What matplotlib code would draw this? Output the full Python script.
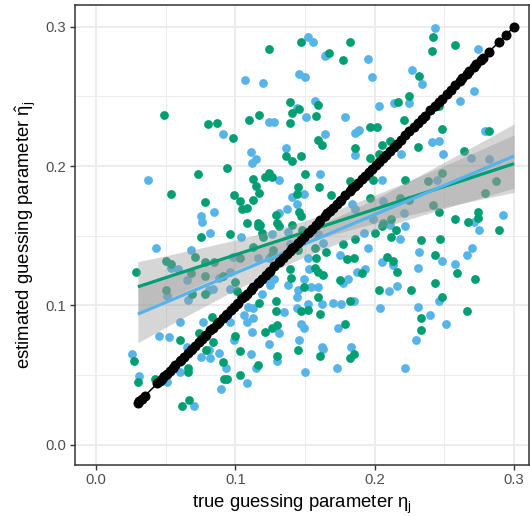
import numpy as np
import matplotlib
matplotlib.use("Agg")
import matplotlib.pyplot as plt
from matplotlib.ticker import MultipleLocator

# ---------------- data ----------------
green_x = [0.124, 0.147, 0.049, 0.080, 0.087, 0.110, 0.117, 0.139, 0.141, 0.146,
           0.159, 0.158, 0.139, 0.242, 0.182, 0.258, 0.241, 0.167, 0.177, 0.232,
           0.225, 0.217, 0.246, 0.221, 0.197, 0.202, 0.248, 0.282, 0.098, 0.136,
           0.141, 0.147, 0.159, 0.162, 0.094, 0.073, 0.054, 0.078, 0.099, 0.103,
           0.105, 0.108, 0.113, 0.115, 0.117, 0.113, 0.121, 0.124, 0.126, 0.150,
           0.145, 0.144, 0.160, 0.129, 0.146, 0.147, 0.108, 0.116, 0.118, 0.130,
           0.141, 0.211, 0.205, 0.231, 0.186, 0.197, 0.203, 0.264, 0.182, 0.199,
           0.222, 0.169, 0.197, 0.218, 0.225, 0.238, 0.248, 0.242, 0.246, 0.279,
           0.287, 0.258, 0.267, 0.274, 0.274, 0.206, 0.212, 0.075, 0.096, 0.116,
           0.120, 0.119, 0.131, 0.148, 0.157, 0.071, 0.050, 0.054, 0.078, 0.029,
           0.085, 0.103, 0.113, 0.126, 0.127, 0.145, 0.157, 0.158, 0.068, 0.078,
           0.091, 0.100, 0.101, 0.050, 0.069, 0.078, 0.104, 0.129, 0.139, 0.140,
           0.149, 0.157, 0.159, 0.152, 0.147, 0.129, 0.159, 0.083, 0.117, 0.289,
           0.205, 0.215, 0.212, 0.200, 0.186, 0.177, 0.233, 0.247, 0.243, 0.259,
           0.272, 0.209, 0.213, 0.216, 0.243, 0.203, 0.226, 0.248, 0.180, 0.185,
           0.191, 0.175, 0.163, 0.182, 0.233, 0.266, 0.165, 0.027, 0.030, 0.060,
           0.042, 0.066, 0.066, 0.062, 0.067, 0.079, 0.084, 0.074, 0.075, 0.091,
           0.092, 0.094, 0.100, 0.103, 0.103, 0.116, 0.121, 0.126, 0.130, 0.130,
           0.145, 0.161, 0.179, 0.185, 0.182, 0.233, 0.161]
green_y = [0.284, 0.289, 0.237, 0.230, 0.231, 0.233, 0.237, 0.246, 0.238, 0.241,
           0.244, 0.236, 0.231, 0.293, 0.289, 0.287, 0.283, 0.281, 0.276, 0.265,
           0.250, 0.246, 0.243, 0.233, 0.228, 0.228, 0.227, 0.225, 0.220, 0.207,
           0.204, 0.207, 0.219, 0.215, 0.199, 0.194, 0.180, 0.174, 0.179, 0.175,
           0.169, 0.170, 0.191, 0.186, 0.181, 0.176, 0.192, 0.195, 0.192, 0.194,
           0.185, 0.180, 0.185, 0.165, 0.167, 0.164, 0.159, 0.159, 0.158, 0.159,
           0.158, 0.218, 0.215, 0.214, 0.213, 0.206, 0.209, 0.211, 0.189, 0.190,
           0.190, 0.179, 0.177, 0.177, 0.176, 0.189, 0.195, 0.172, 0.167, 0.181,
           0.189, 0.162, 0.160, 0.167, 0.163, 0.159, 0.162, 0.149, 0.151, 0.157,
           0.149, 0.152, 0.157, 0.154, 0.157, 0.135, 0.132, 0.130, 0.131, 0.124,
           0.131, 0.134, 0.142, 0.136, 0.140, 0.140, 0.141, 0.134, 0.123, 0.121,
           0.121, 0.117, 0.110, 0.111, 0.108, 0.108, 0.107, 0.103, 0.126, 0.120,
           0.113, 0.127, 0.124, 0.097, 0.096, 0.096, 0.106, 0.092, 0.102, 0.154,
           0.157, 0.154, 0.149, 0.152, 0.148, 0.144, 0.147, 0.148, 0.136, 0.123,
           0.119, 0.135, 0.132, 0.124, 0.116, 0.111, 0.111, 0.106, 0.133, 0.134,
           0.123, 0.118, 0.122, 0.103, 0.091, 0.096, 0.138, 0.060, 0.045, 0.075,
           0.047, 0.055, 0.052, 0.028, 0.032, 0.068, 0.074, 0.080, 0.078, 0.059,
           0.047, 0.047, 0.078, 0.067, 0.050, 0.057, 0.081, 0.084, 0.086, 0.064,
           0.068, 0.064, 0.087, 0.065, 0.062, 0.082, 0.094]

blue_x = [0.152, 0.156, 0.164, 0.107, 0.120, 0.146, 0.150, 0.124, 0.128, 0.144,
          0.157, 0.151, 0.243, 0.274, 0.165, 0.195, 0.227, 0.198, 0.234, 0.266,
          0.271, 0.261, 0.214, 0.225, 0.203, 0.179, 0.189, 0.279, 0.091, 0.111,
          0.115, 0.112, 0.136, 0.037, 0.075, 0.076, 0.085, 0.131, 0.161, 0.141,
          0.149, 0.144, 0.137, 0.131, 0.186, 0.188, 0.241, 0.246, 0.164, 0.186,
          0.219, 0.249, 0.269, 0.282, 0.205, 0.245, 0.184, 0.206, 0.221, 0.292,
          0.199, 0.186, 0.082, 0.104, 0.126, 0.138, 0.159, 0.043, 0.068, 0.054,
          0.059, 0.098, 0.116, 0.124, 0.139, 0.152, 0.065, 0.088, 0.096, 0.096,
          0.051, 0.081, 0.084, 0.066, 0.109, 0.113, 0.125, 0.128, 0.123, 0.138,
          0.145, 0.144, 0.149, 0.153, 0.154, 0.159, 0.152, 0.144, 0.135, 0.106,
          0.113, 0.119, 0.271, 0.275, 0.211, 0.222, 0.218, 0.192, 0.195, 0.232,
          0.270, 0.266, 0.248, 0.258, 0.213, 0.205, 0.231, 0.216, 0.210, 0.246,
          0.175, 0.187, 0.193, 0.181, 0.177, 0.170, 0.176, 0.185, 0.162, 0.204,
          0.231, 0.240, 0.163, 0.026, 0.031, 0.045, 0.052, 0.060, 0.051, 0.060,
          0.065, 0.070, 0.075, 0.081, 0.082, 0.088, 0.093, 0.090, 0.077, 0.096,
          0.099, 0.111, 0.108, 0.115, 0.108, 0.112, 0.131, 0.124, 0.130, 0.146,
          0.147, 0.149, 0.162, 0.150, 0.174, 0.163, 0.183, 0.173, 0.230, 0.251,
          0.222]
blue_y = [0.293, 0.289, 0.279, 0.262, 0.260, 0.266, 0.264, 0.232, 0.232, 0.242,
          0.247, 0.235, 0.299, 0.284, 0.280, 0.277, 0.269, 0.264, 0.259, 0.266,
          0.254, 0.247, 0.245, 0.245, 0.243, 0.235, 0.226, 0.225, 0.223, 0.210,
          0.205, 0.202, 0.213, 0.190, 0.164, 0.160, 0.167, 0.190, 0.194, 0.178,
          0.180, 0.173, 0.169, 0.166, 0.224, 0.225, 0.217, 0.218, 0.223, 0.208,
          0.209, 0.209, 0.206, 0.205, 0.190, 0.190, 0.173, 0.175, 0.166, 0.165,
          0.162, 0.169, 0.152, 0.149, 0.151, 0.153, 0.151, 0.141, 0.140, 0.127,
          0.126, 0.135, 0.134, 0.134, 0.144, 0.134, 0.118, 0.120, 0.124, 0.112,
          0.107, 0.111, 0.112, 0.104, 0.099, 0.098, 0.115, 0.119, 0.119, 0.115,
          0.111, 0.106, 0.119, 0.126, 0.113, 0.113, 0.101, 0.098, 0.095, 0.093,
          0.091, 0.108, 0.160, 0.154, 0.158, 0.157, 0.148, 0.152, 0.141, 0.138,
          0.141, 0.136, 0.132, 0.130, 0.129, 0.131, 0.127, 0.114, 0.110, 0.103,
          0.136, 0.124, 0.126, 0.119, 0.116, 0.102, 0.101, 0.103, 0.101, 0.098,
          0.099, 0.093, 0.145, 0.065, 0.049, 0.078, 0.077, 0.088, 0.045, 0.052,
          0.070, 0.028, 0.063, 0.068, 0.062, 0.066, 0.055, 0.040, 0.088, 0.088,
          0.075, 0.065, 0.044, 0.055, 0.088, 0.081, 0.080, 0.072, 0.060, 0.075,
          0.087, 0.084, 0.070, 0.052, 0.084, 0.069, 0.070, 0.055, 0.075, 0.087,
          0.055]

# true guessing parameters (black points on the identity line)
eta_true = [0.030, 0.031, 0.033, 0.035, 0.044, 0.046, 0.047, 0.049, 0.051, 0.053,
            0.055, 0.057, 0.060, 0.061, 0.063, 0.066, 0.068, 0.069, 0.071, 0.074,
            0.076, 0.078, 0.079, 0.082, 0.084, 0.087, 0.088, 0.091, 0.093, 0.094,
            0.097, 0.099, 0.101, 0.102, 0.105, 0.107, 0.108, 0.111, 0.113, 0.116,
            0.117, 0.119, 0.122, 0.124, 0.125, 0.128, 0.131, 0.132, 0.134, 0.137,
            0.139, 0.141, 0.142, 0.145, 0.147, 0.149, 0.152, 0.153, 0.155, 0.158,
            0.160, 0.161, 0.164, 0.166, 0.168, 0.170, 0.173, 0.175, 0.176, 0.179,
            0.182, 0.184, 0.186, 0.188, 0.191, 0.193, 0.196, 0.198, 0.201, 0.203,
            0.206, 0.208, 0.211, 0.214, 0.216, 0.219, 0.222, 0.225, 0.228, 0.231,
            0.234, 0.236, 0.240, 0.243, 0.246, 0.248, 0.252, 0.255, 0.258, 0.261,
            0.263, 0.266, 0.268, 0.271, 0.273, 0.276, 0.278, 0.282, 0.289, 0.294,
            0.300]

tick_values = [0.0, 0.1, 0.2, 0.3]
tick_labels = ["0.0", "0.1", "0.2", "0.3"]
x_label = r"true guessing parameter $\eta_j$"
y_label = r"estimated guessing parameter $\hat{\eta}_j$"

GREEN = "#009E73"
BLUE = "#56B4E9"

# ---------------- style ----------------
plt.rcParams["font.family"] = ["Liberation Sans", "DejaVu Sans"]
plt.rcParams["mathtext.fontset"] = "custom"
plt.rcParams["mathtext.rm"] = "Liberation Sans"
plt.rcParams["mathtext.it"] = "Liberation Sans"
plt.rcParams["mathtext.bf"] = "Liberation Sans:bold"

fig = plt.figure(figsize=(5.30, 5.16), dpi=100)
ax = fig.add_axes([74.5 / 530, 1 - 465 / 516, (529 - 74.5) / 530, (465 - 5) / 516])
ax.set_xlim(-0.0155, 0.3108)
ax.set_ylim(-0.0146, 0.3157)

ax.set_facecolor("white")
ax.xaxis.set_major_locator(MultipleLocator(0.1))
ax.yaxis.set_major_locator(MultipleLocator(0.1))
ax.xaxis.set_minor_locator(MultipleLocator(0.05))
ax.yaxis.set_minor_locator(MultipleLocator(0.05))
ax.grid(which="major", color="#EBEBEB", linewidth=1.3, zorder=0)
ax.grid(which="minor", color="#EBEBEB", linewidth=0.65, zorder=0)
ax.set_axisbelow(True)
ax.tick_params(which="minor", length=0)
ax.tick_params(which="major", length=3.3, width=1.0, color="#333333",
               labelsize=10.6, labelcolor="#4D4D4D", pad=2.5)
ax.set_xticks(tick_values)
ax.set_xticklabels(tick_labels)
ax.set_yticks(tick_values)
ax.set_yticklabels(tick_labels)
for sp in ax.spines.values():
    sp.set_color("#333333")
    sp.set_linewidth(1.1)

# ---------------- marks ----------------
ax.scatter(blue_x, blue_y, s=40, color=BLUE, linewidths=0, zorder=2)
ax.scatter(green_x, green_y, s=40, color=GREEN, linewidths=0, zorder=2)

eta = np.sort(np.asarray(eta_true))
xg = np.linspace(eta.min(), eta.max(), 80)


def lm_band(x, y, grid):
    x = np.asarray(x)
    y = np.asarray(y)
    n = len(x)
    b, a = np.polyfit(x, y, 1)
    resid = y - (a + b * x)
    s = np.sqrt(np.sum(resid ** 2) / (n - 2))
    sxx = np.sum((x - x.mean()) ** 2)
    se = s * np.sqrt(1.0 / n + (grid - x.mean()) ** 2 / sxx)
    t = 1.973
    fit = a + b * grid
    return fit, fit - t * se, fit + t * se


for xs, ys, col in [(green_x, green_y, GREEN), (blue_x, blue_y, BLUE)]:
    fit, lo, hi = lm_band(xs, ys, xg)
    ax.fill_between(xg, lo, hi, color="#999999", alpha=0.4, linewidth=0, zorder=3)
for xs, ys, col in [(green_x, green_y, GREEN), (blue_x, blue_y, BLUE)]:
    fit, lo, hi = lm_band(xs, ys, xg)
    ax.plot(xg, fit, color=col, linewidth=2.3, zorder=4, solid_capstyle="butt")

ax.plot(eta, eta, color="black", linewidth=1.1, zorder=5)
ax.scatter(eta, eta, s=52, color="black", linewidths=0, zorder=6)

ax.set_xlabel(x_label, fontsize=13.3, color="black", labelpad=4)
ax.set_ylabel(y_label, fontsize=13.3, color="black", labelpad=5)

fig.savefig("out.png", dpi=100, facecolor="white")
